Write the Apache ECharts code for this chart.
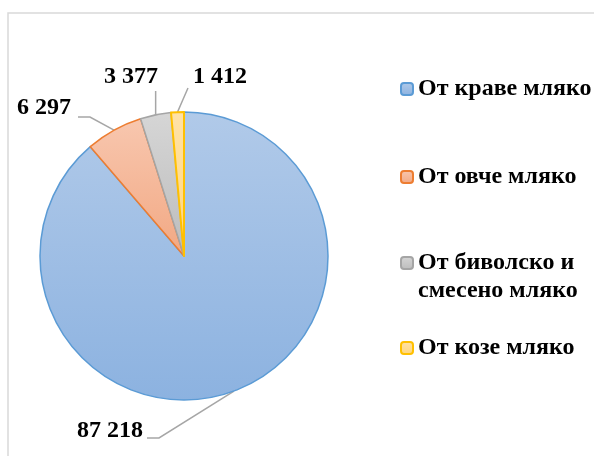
<!DOCTYPE html>
<html>
<head>
<meta charset="utf-8">
<script src="https://cdn.jsdelivr.net/npm/echarts@6/dist/echarts.min.js"></script>
<style>
  html, body { margin: 0; padding: 0; background: #ffffff; }
  #main { width: 594px; height: 456px; }
</style>
</head>
<body>
<div id="main"></div>
<script>
// milk types and quantities
const categories = ['От краве мляко', 'От овче мляко', 'От биволско и\nсмесено мляко', 'От козе мляко'];
const values = [87218, 6297, 3377, 1412];

// fill gradients (top -> bottom) and outlines per slice
const fills = [
    ['#b1cae9', '#8cb2e0'],
    ['#f8c7af', '#f2a883'],
    ['#d6d6d6', '#bcbcbc'],
    ['#ffe2a8', '#ffd67c']
];
const borders = ['#5b9bd5', '#ed7d31', '#a5a5a5', '#ffc000'];

// where each data label sits, and how its leader line bends
const labelSpots = [
    { x: 143, y: 431, align: 'right', bend: [159, 438], end: [147, 438] },
    { x: 71, y: 108, align: 'right', bend: [90, 117], end: [78, 117] },
    { x: 131, y: 77, align: 'center', bend: null, end: [null, 91] },
    { x: 220, y: 77, align: 'center', bend: null, end: [188, 88] }
];

const fontFamily = '"Liberation Serif", "Times New Roman", serif';

const fmt = v => String(v).replace(/\B(?=(\d{3})+(?!\d))/g, ' ');

const chart = echarts.init(document.getElementById('main'));

// one legend per item so each can sit where it does in the original
const legendCenters = [89, 177, 263, 348];
const legends = categories.map((name, i) => {
    const twoLines = name.indexOf('\n') >= 0;
    const lh = twoLines ? 28 : 26;
    return {
        orient: 'vertical',
        left: 400,
        // two-line item gets an empty first line so its first line lines up with the marker
        top: twoLines ? legendCenters[i] - 1.5 * lh : legendCenters[i] - lh / 2,
        padding: 0,
        itemWidth: 12,
        itemHeight: 12,
        selectedMode: false,
        formatter: n => (twoLines ? '\n' + n : n),
        data: [name],
        textStyle: {
            color: '#000000',
            fontFamily: fontFamily,
            fontWeight: 'bold',
            fontSize: 24,
            lineHeight: lh
        }
    };
});

const option = {
    backgroundColor: '#ffffff',
    animation: false,
    graphic: [{
        type: 'rect',
        shape: { x: 8, y: 13, width: 620, height: 480 },
        style: { fill: 'none', stroke: '#d9d9d9', lineWidth: 1.5 },
        silent: true
    }],
    legend: legends,
    series: [{
        type: 'pie',
        center: [184, 256],
        radius: 144,
        startAngle: 90,
        clockwise: true,
        avoidLabelOverlap: false,
        emphasis: { disabled: true },
        data: categories.map((name, i) => ({
            name: name,
            value: values[i],
            itemStyle: {
                color: {
                    type: 'linear', x: 0, y: 0, x2: 0, y2: 1,
                    colorStops: [
                        { offset: 0, color: fills[i][0] },
                        { offset: 1, color: fills[i][1] }
                    ]
                },
                borderColor: borders[i],
                borderWidth: i === 3 ? 2 : 1.5
            }
        })),
        label: {
            show: true,
            position: 'outside',
            formatter: p => fmt(p.value),
            color: '#000000',
            fontFamily: fontFamily,
            fontWeight: 'bold',
            fontSize: 24
        },
        labelLine: {
            show: true,
            length: 10,
            length2: 10,
            lineStyle: { color: '#a6a6a6', width: 1.5 }
        },
        labelLayout: function (params) {
            const s = labelSpots[params.dataIndex];
            const start = params.labelLinePoints ? params.labelLinePoints[0] : [0, 0];
            const end = [s.end[0] === null ? start[0] : s.end[0], s.end[1]];
            const bend = s.bend || [(start[0] + end[0]) / 2, (start[1] + end[1]) / 2];
            return {
                x: s.x,
                y: s.y,
                align: s.align,
                verticalAlign: 'middle',
                labelLinePoints: [start, bend, end]
            };
        }
    }]
};

chart.setOption(option);
</script>
</body>
</html>
